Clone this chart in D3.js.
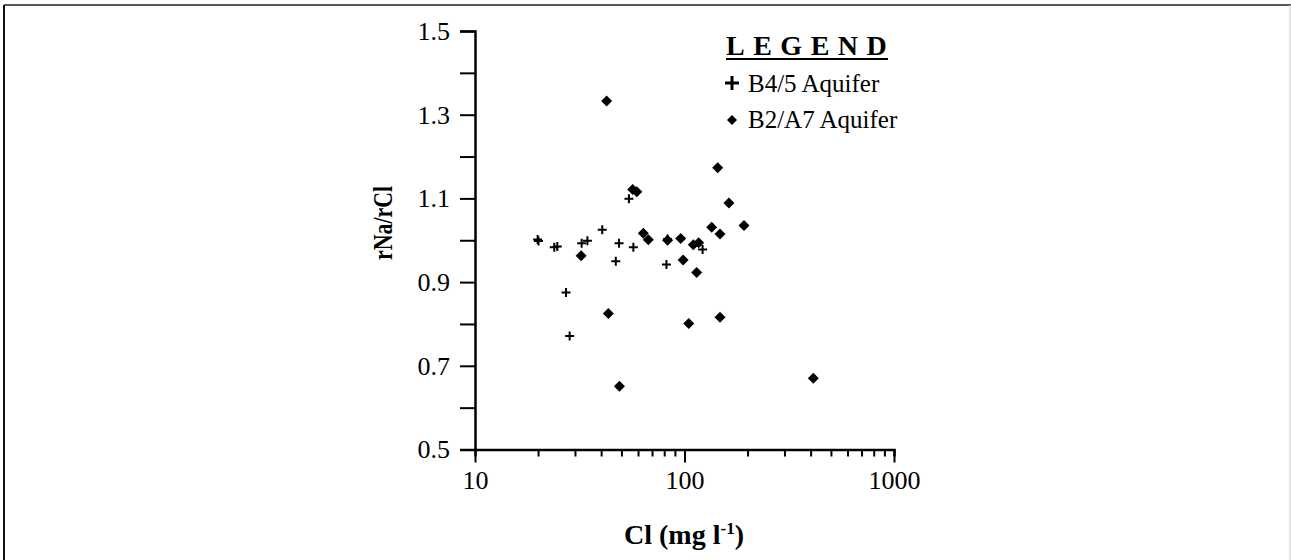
<!DOCTYPE html>
<html>
<head>
<meta charset="utf-8">
<script src="https://cdn.jsdelivr.net/npm/d3@7"></script>
<style>
  body { margin: 0; background: #fff; }
  svg text { font-family: "Liberation Serif", "Times New Roman", serif; fill: #000; }
</style>
</head>
<body>
<div id="chart"></div>
<script>
// B4/5 Aquifer (plus markers): Cl (mg/l), rNa/rCl
var b45Cl  = [19.9, 20.1, 23.9, 24.7, 27.2, 28.3, 32.3, 34.4, 40.5, 47.0, 48.7, 54.3, 57.0, 82.0, 83.0, 122];
var b45Rat = [1.002, 0.998, 0.983, 0.985, 0.875, 0.771, 0.993, 0.999, 1.025, 0.950, 0.993, 1.099, 0.983, 0.942, 1.003, 0.978];

// B2/A7 Aquifer (diamond markers)
var b2Cl  = [32.1, 42.5, 43.3, 48.9, 56.6, 59.2, 63.6, 67.2, 83.0, 95.9, 98.5, 104.8, 110.2, 116.9, 114.3, 134.8, 144, 147.7, 147.7, 163, 192.3, 412];
var b2Rat = [0.963, 1.333, 0.825, 0.651, 1.121, 1.116, 1.017, 1.001, 1.000, 1.004, 0.953, 0.801, 0.989, 0.994, 0.923, 1.031, 1.173, 1.015, 0.816, 1.089, 1.035, 0.670];

var xTickLabels = ["10", "100", "1000"];
var yTickLabels = ["0.5", "0.7", "0.9", "1.1", "1.3", "1.5"];
var seriesNames = ["B4/5 Aquifer", "B2/A7 Aquifer"];

var serif = "'Liberation Serif', 'Times New Roman', serif";

function init() {
    var w = 1291, h = 560;

    var svg = d3.select("#chart").append("svg")
        .attr("width", w)
        .attr("height", h)
        .attr("font-family", serif);

    // frame around the picture
    svg.append("line").attr("x1", 4).attr("y1", 5).attr("x2", w).attr("y2", 5)
        .attr("stroke", "#555").attr("stroke-width", 2);
    svg.append("line").attr("x1", 4).attr("y1", 5).attr("x2", 4).attr("y2", h)
        .attr("stroke", "#111").attr("stroke-width", 2);
    svg.append("line").attr("x1", w - 1).attr("y1", 5).attr("x2", w - 1).attr("y2", h)
        .attr("stroke", "#ccc").attr("stroke-width", 1);

    var xScale = d3.scaleLog().domain([10, 1000]).range([475, 894]);
    var yScale = d3.scaleLinear().domain([0.5, 1.5]).range([449.5, 31]);

    // x axis: every log tick, labels at the decades
    var xTicks = xScale.ticks();
    var xAxis = d3.axisBottom(xScale)
        .tickValues(xTicks)
        .tickSizeOuter(0)
        .tickSize(7)
        .tickPadding(14)
        .tickFormat(function(d) {
            var s = String(Math.round(d));
            return xTickLabels.indexOf(s) >= 0 ? s : "";
        });

    var gx = svg.append("g")
        .attr("transform", "translate(0," + yScale(0.5) + ")")
        .call(xAxis)
        .attr("font-family", serif)
        .attr("font-size", 26);
    gx.selectAll(".tick line")
        .attr("y2", function(d) {
            return xTickLabels.indexOf(String(Math.round(d))) >= 0 ? 13 : 7;
        })
        .attr("stroke-width", 2);

    // y axis: ticks every 0.1, labels every 0.2
    var yTicks = yScale.ticks(10);
    var yAxis = d3.axisLeft(yScale)
        .tickValues(yTicks)
        .tickSizeOuter(0)
        .tickSize(15)
        .tickPadding(10)
        .tickFormat(function(d) {
            var s = d3.format(".1f")(d);
            return yTickLabels.indexOf(s) >= 0 ? s : "";
        });

    var gy = svg.append("g")
        .attr("transform", "translate(" + xScale(10) + ",0)")
        .call(yAxis)
        .attr("font-family", serif)
        .attr("font-size", 26);
    gy.selectAll(".tick line").attr("stroke-width", 2);

    svg.selectAll(".domain").attr("stroke", "#000").attr("stroke-width", 2.5);

    // axis titles
    var xt = svg.append("text")
        .attr("x", 684)
        .attr("y", 544)
        .attr("text-anchor", "middle")
        .attr("font-size", 28)
        .attr("font-weight", "bold");
    xt.append("tspan").text("Cl (mg l");
    xt.append("tspan").attr("font-size", 17).attr("dy", -10).text("-1");
    xt.append("tspan").attr("dy", 10).text(")");

    svg.append("text")
        .attr("transform", "translate(392,223) rotate(-90)")
        .attr("text-anchor", "middle")
        .attr("font-size", 28)
        .attr("font-weight", "bold")
        .attr("textLength", 74)
        .attr("lengthAdjust", "spacingAndGlyphs")
        .text("rNa/rCl");

    var plusPath = "M-4.5,0H4.5M0,-4.5V4.5";
    var diamondPath = "M0,-5.5L5.5,0L0,5.5L-5.5,0Z";

    var b45 = b45Cl.map(function(c, i) { return [c, b45Rat[i]]; });
    var b2 = b2Cl.map(function(c, i) { return [c, b2Rat[i]]; });

    svg.selectAll("path.b2")
        .data(b2)
        .enter()
        .append("path")
        .attr("class", "b2")
        .attr("d", diamondPath)
        .attr("fill", "#000")
        .attr("transform", function(d) {
            return "translate(" + xScale(d[0]) + "," + yScale(d[1]) + ")";
        });

    svg.selectAll("path.b45")
        .data(b45)
        .enter()
        .append("path")
        .attr("class", "b45")
        .attr("d", plusPath)
        .attr("fill", "none")
        .attr("stroke", "#000")
        .attr("stroke-width", 2)
        .attr("transform", function(d) {
            return "translate(" + xScale(d[0]) + "," + yScale(d[1]) + ")";
        });

    // legend
    svg.append("text")
        .attr("x", 726)
        .attr("y", 55)
        .attr("font-size", 28)
        .attr("font-weight", "bold")
        .attr("letter-spacing", 8.5)
        .text("LEGEND");
    svg.append("line")
        .attr("x1", 726).attr("x2", 888)
        .attr("y1", 59).attr("y2", 59)
        .attr("stroke", "#000").attr("stroke-width", 2);

    svg.append("path")
        .attr("d", "M-7,0H7M0,-7V7")
        .attr("stroke", "#000").attr("stroke-width", 3)
        .attr("transform", "translate(732,83)");
    svg.append("path")
        .attr("d", "M0,-5L5,0L0,5L-5,0Z")
        .attr("fill", "#000")
        .attr("transform", "translate(732,120)");

    svg.selectAll("text.leg")
        .data(seriesNames)
        .enter()
        .append("text")
        .attr("class", "leg")
        .attr("x", 748)
        .attr("y", function(d, i) { return 92 + i * 36; })
        .attr("font-size", 25)
        .text(function(d) { return d; });
}
window.onload = init;
</script>
</body>
</html>
